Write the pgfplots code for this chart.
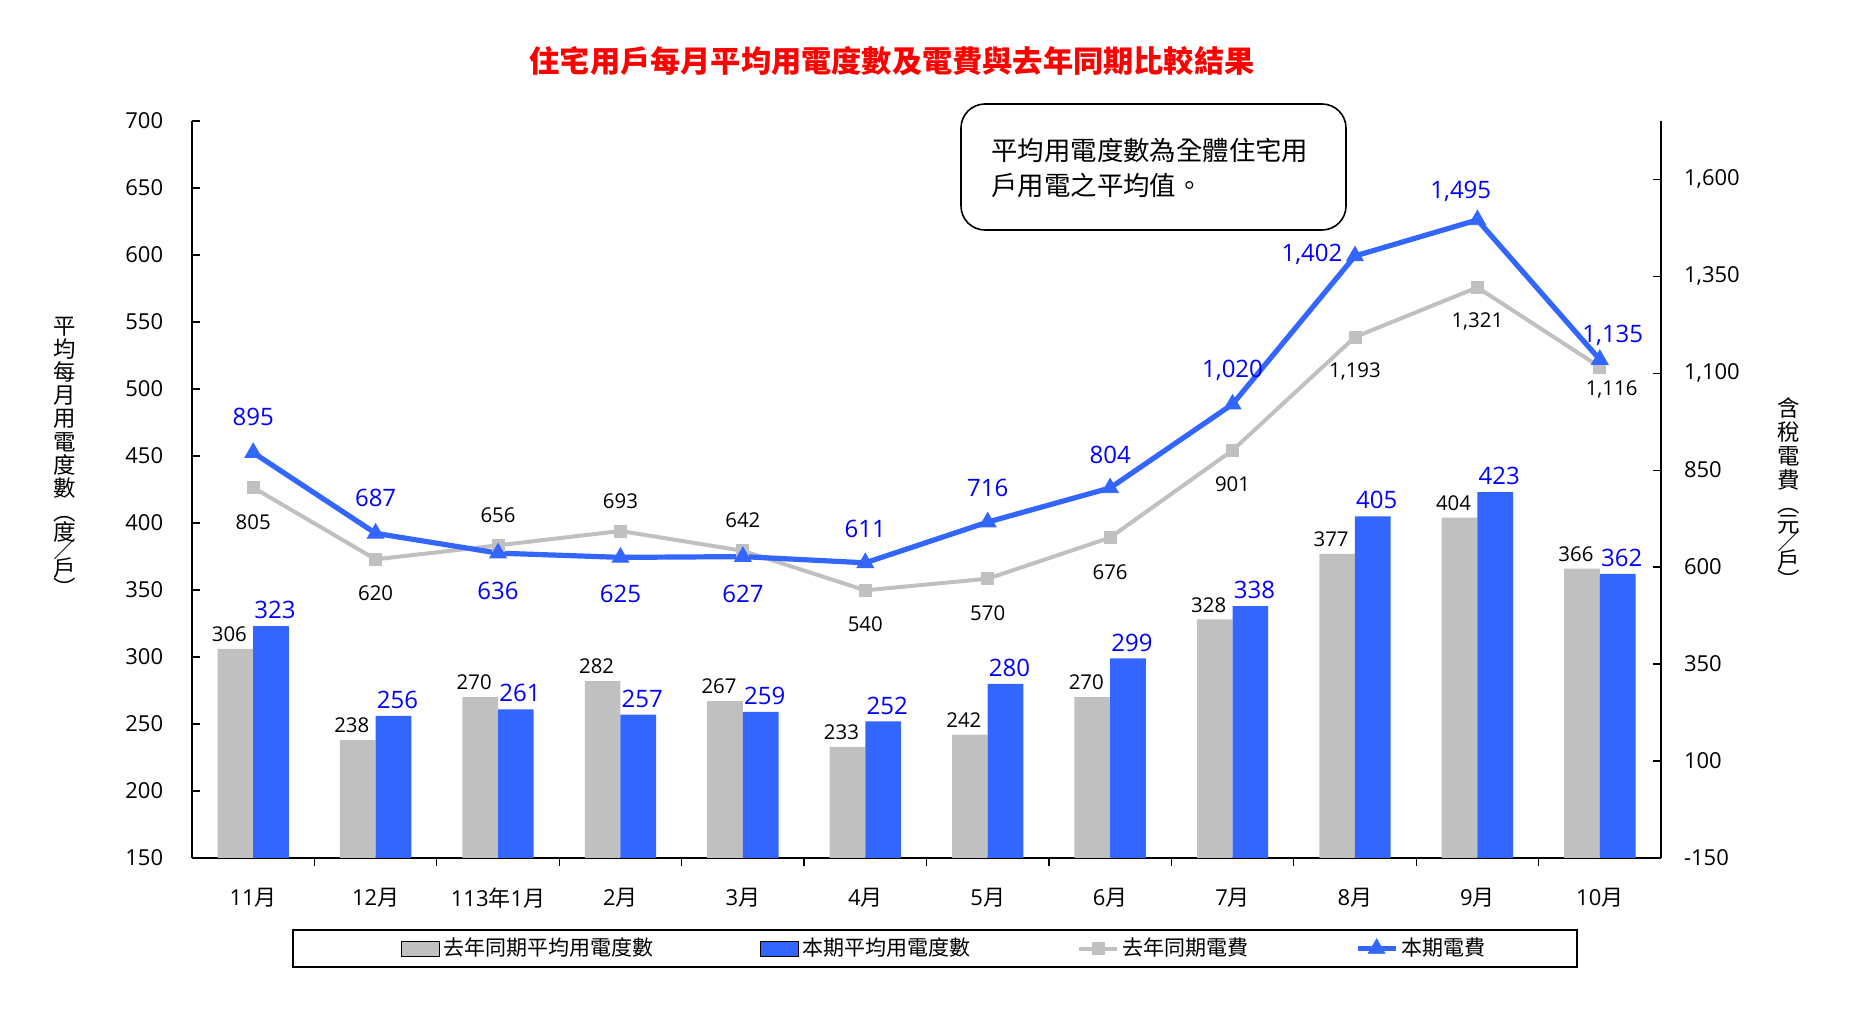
\documentclass[border=0pt]{standalone}
\usepackage{graphicx}
\usepackage{fontspec}
\setmainfont{Open Sans}
\newfontfamily\cjk{Noto Sans CJK TC}
\usepackage{pgfplots}
\usepackage{pgfplotstable}
\pgfplotsset{compat=1.18}

\definecolor{barGray}{RGB}{192,192,192}
\definecolor{barBlue}{RGB}{51,102,255}
\definecolor{lblBlue}{RGB}{0,0,255}
\definecolor{titleRed}{RGB}{255,0,0}

\newcommand\yue{{\cjk 月}}
\newcommand\vslash{\rotatebox[origin=c]{90}{＼}}

\pgfplotsset{
  barleg/.style={legend image code/.code={\fill[##1] (0pt,-3.75pt) rectangle (19pt,3.75pt);}},
  lineleg/.style={legend image code/.code={\draw[mark repeat=2,mark phase=2,##1] plot coordinates {(0pt,0pt) (9.5pt,0pt) (19pt,0pt)};}},
}

% average kWh per household
\pgfplotstableread{
x prev cur
0  306 323
1  238 256
2  270 261
3  282 257
4  267 259
5  233 252
6  242 280
7  270 299
8  328 338
9  377 405
10 404 423
11 366 362
}\kwhdata

% fee, same period last year (label offsets in pt)
\pgfplotstableread{
x fee dx dy
0  805  0   -17.3
1  620  0   -17.0
2  656  0    15.2
3  693  0    15.1
4  642  0    15.5
5  540  0   -16.9
6  570  0   -17.4
7  676  0   -17.2
8  901  0   -16.9
9  1193 0   -17.2
10 1321 0   -17.1
11 1116 5.9 -11.2
}\feeprev

% fee, this period
\pgfplotstableread{
x fee dx dy
0  895   0     17.8
1  687   0     17.8
2  636   0    -19.0
3  625   0    -18.5
4  627   0    -18.5
5  611   0     16.8
6  716   0     17.2
7  804   0     16.7
8  1020  0     17.0
9  1402 -21.5   1.0
10 1495 -8.3   14.4
11 1135  6.5   11.9
}\feecur

\begin{document}
\begin{tikzpicture}
\useasboundingbox (0,0) rectangle (930pt,512pt);

% bars, left axis
\begin{axis}[
  at={(96pt,83pt)}, anchor=south west,
  scale only axis, width=734.5pt, height=368.5pt,
  xmin=-0.5, xmax=11.5, ymin=150, ymax=700,
  axis y line*=left, axis x line*=bottom,
  axis line style={black, line width=0.6pt},
  tick style={black, line width=0.6pt},
  tick align=inside, major tick length=4pt,
  ytick={150,200,...,700},
  yticklabel style={xshift=-10.9pt},
  xtick={0.5,1.5,...,10.5}, xticklabels={},
  extra x ticks={0,...,11},
  extra x tick labels={11\yue,12\yue,113{\cjk 年}1\yue,2\yue,3\yue,4\yue,5\yue,6\yue,7\yue,8\yue,9\yue,10\yue},
  extra x tick style={major tick length=0pt, xticklabel style={yshift=-11.6pt}},
  tick label style={font=\fontsize{11}{13}\selectfont},
  /pgf/number format/assume math mode=true,
  ybar, bar width=17.85pt,
]
\addplot[ybar, bar shift=-8.925pt, fill=barGray, draw=none,
  nodes near coords, nodes near coords style={anchor=south, xshift=-3pt, text=black, font=\fontsize{10.2}{12}\selectfont}]
  table[x=x, y=prev] {\kwhdata};
\addplot[ybar, bar shift=8.925pt, fill=barBlue, draw=none,
  nodes near coords, nodes near coords style={anchor=south, xshift=2pt, text=lblBlue, font=\fontsize{12}{14}\selectfont}]
  table[x=x, y=cur] {\kwhdata};
\end{axis}

% fee lines, right axis
\begin{axis}[
  at={(96pt,83pt)}, anchor=south west,
  scale only axis, width=734.5pt, height=368.5pt,
  xmin=-0.5, xmax=11.5, ymin=-150, ymax=1750,
  axis y line*=right, axis x line=none,
  axis line style={black, line width=0.6pt},
  tick style={black, line width=0.6pt},
  tick align=inside, major tick length=4pt,
  ytick={-150,100,...,1600},
  yticklabel style={xshift=8pt},
  tick label style={font=\fontsize{11}{13}\selectfont},
  /pgf/number format/assume math mode=true,
  /pgf/number format/1000 sep={,},
  clip=false,
  legend columns=4,
  legend cell align=left,
  legend style={draw=none, fill=none, at={(0.1423,-0.1228)}, anchor=west,
    inner sep=0pt, nodes={inner sep=0pt},
    font=\cjk\fontsize{10.5}{12}\selectfont,
    /tikz/every odd column/.append style={column sep=1.5pt},
    /tikz/every even column/.append style={column sep=53.5pt}},
]
\addlegendimage{barleg, fill=barGray}
\addlegendentry{去年同期平均用電度數}
\addlegendimage{barleg, fill=barBlue}
\addlegendentry{本期平均用電度數}

\addplot[lineleg, color=barGray, line width=2pt, mark=square*, mark size=3pt,
  mark options={line width=0.4pt},
  visualization depends on={\thisrow{dx} \as \myDx},
  visualization depends on={\thisrow{dy} \as \myDy},
  nodes near coords,
  nodes near coords style={anchor=center, xshift=\myDx pt, yshift=\myDy pt, text=black, font=\fontsize{10.2}{12}\selectfont}]
  table[x=x, y=fee] {\feeprev};
\addlegendentry{去年同期電費}

\addplot[lineleg, color=barBlue, line width=2.6pt, mark=triangle*, mark size=4.8pt,
  mark options={line width=0.4pt},
  visualization depends on={\thisrow{dx} \as \myDx},
  visualization depends on={\thisrow{dy} \as \myDy},
  nodes near coords,
  nodes near coords style={anchor=center, xshift=\myDx pt, yshift=\myDy pt, text=lblBlue, font=\fontsize{12}{14}\selectfont}]
  table[x=x, y=fee] {\feecur};
\addlegendentry{本期電費}
\end{axis}

% legend frame
\draw[black, line width=0.6pt] (146.5pt,28.5pt) rectangle (788.5pt,47pt);

% title
\node[text=titleRed, font=\cjk\bfseries\fontsize{15.1}{18}\selectfont] at (446pt,481.3pt) {住宅用戶每月平均用電度數及電費與去年同期比較結果};

% axis titles, written top to bottom
\node[anchor=north, inner sep=0pt, align=center, font=\cjk\fontsize{11.2}{11.55}\selectfont] at (32.5pt,353.6pt)
  {平\\均\\每\\月\\用\\電\\度\\數\\[0.45pt]︵\\[-1.55pt]度\\[-2.55pt]\vslash\\[-2.55pt]戶\\[-1.55pt]︶};
\node[anchor=north, inner sep=0pt, align=center, font=\cjk\fontsize{11.2}{12}\selectfont] at (894.5pt,313.6pt)
  {含\\稅\\電\\費\\︵\\[-2pt]元\\[-3pt]\vslash\\[-3pt]戶\\[-2pt]︶};

% note box
\draw[black, line width=0.8pt, rounded corners=12pt] (480.5pt,397pt) rectangle (673pt,460pt);
\node[anchor=base west, inner sep=0pt, font=\cjk\fontsize{13.2}{15}\selectfont] at (495.5pt,431.5pt) {平均用電度數為全體住宅用};
\node[anchor=base west, inner sep=0pt, font=\cjk\fontsize{13.2}{15}\selectfont] at (495.5pt,414pt) {戶用電之平均值。};
\end{tikzpicture}
\end{document}
